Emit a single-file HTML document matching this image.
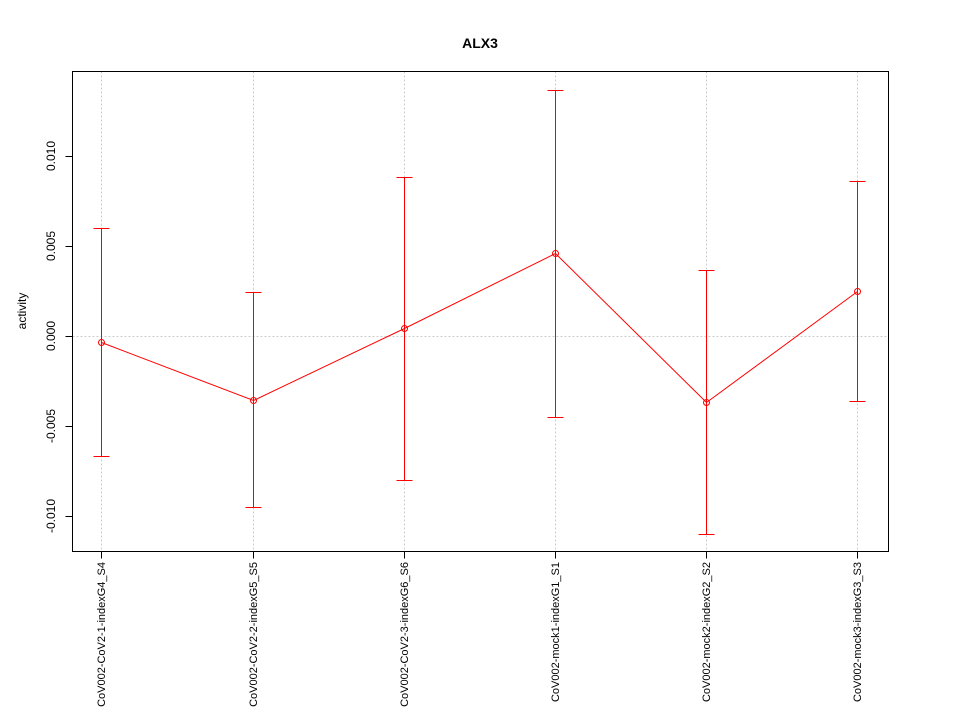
<!DOCTYPE html>
<html><head><style>body{margin:0;background:#fff}svg{display:block}</style></head><body>
<svg width="960" height="720" xmlns="http://www.w3.org/2000/svg" font-family="Liberation Sans, sans-serif">
<rect width="960" height="720" fill="#fff"/>
<text x="480" y="48" text-anchor="middle" font-size="14" font-weight="bold">ALX3</text>
<g transform="translate(0.5,0.5)">
<g stroke="#ccc" stroke-dasharray="2,2" stroke-width="1">
<line x1="101" y1="71" x2="101" y2="551"/><line x1="253" y1="71" x2="253" y2="551"/><line x1="404" y1="71" x2="404" y2="551"/><line x1="555" y1="71" x2="555" y2="551"/><line x1="706" y1="71" x2="706" y2="551"/><line x1="857" y1="71" x2="857" y2="551"/>
<line x1="72" y1="336" x2="888" y2="336"/>
</g>
<rect x="72" y="71" width="816" height="480" fill="none" stroke="#000"/>
<g stroke="#000">
<line x1="72" y1="156" x2="65" y2="156"/><line x1="72" y1="246" x2="65" y2="246"/><line x1="72" y1="336" x2="65" y2="336"/><line x1="72" y1="426" x2="65" y2="426"/><line x1="72" y1="516" x2="65" y2="516"/>
<line x1="101" y1="551" x2="101" y2="558"/><line x1="253" y1="551" x2="253" y2="558"/><line x1="404" y1="551" x2="404" y2="558"/><line x1="555" y1="551" x2="555" y2="558"/><line x1="706" y1="551" x2="706" y2="558"/><line x1="857" y1="551" x2="857" y2="558"/>
</g>
<g stroke="red" fill="none" stroke-width="1">
<path d="M101 228V456M93 228H109M93 456H109"/>
<path d="M253 292V507M245 292H261M245 507H261"/>
<path d="M404 177V480M396 177H412M396 480H412"/>
<path d="M555 90V417M547 90H563M547 417H563"/>
<path d="M706 270V534M698 270H714M698 534H714"/>
<path d="M857 181V401M849 181H865M849 401H865"/>
<polyline points="101,342 253,400 404,328 555,253 706,402 857,291"/>
<circle cx="101" cy="342" r="3"/><circle cx="253" cy="400" r="3"/><circle cx="404" cy="328" r="3"/><circle cx="555" cy="253" r="3"/><circle cx="706" cy="402" r="3"/><circle cx="857" cy="291" r="3"/>
</g>
</g>
<g font-size="12" text-anchor="middle">
<text transform="translate(55,156) rotate(-90)">0.010</text>
<text transform="translate(55,246) rotate(-90)">0.005</text>
<text transform="translate(55,336) rotate(-90)">0.000</text>
<text transform="translate(55,426) rotate(-90)">-0.005</text>
<text transform="translate(55,516) rotate(-90)">-0.010</text>
<text transform="translate(26,311) rotate(-90)">activity</text>
</g>
<g font-size="11" text-anchor="end">
<text transform="translate(105,562) rotate(-90)">CoV002-CoV2-1-indexG4_S4</text>
<text transform="translate(257,562) rotate(-90)">CoV002-CoV2-2-indexG5_S5</text>
<text transform="translate(408,562) rotate(-90)">CoV002-CoV2-3-indexG6_S6</text>
<text transform="translate(559,562) rotate(-90)">CoV002-mock1-indexG1_S1</text>
<text transform="translate(710,562) rotate(-90)">CoV002-mock2-indexG2_S2</text>
<text transform="translate(861,562) rotate(-90)">CoV002-mock3-indexG3_S3</text>
</g>
</svg>
</body></html>
